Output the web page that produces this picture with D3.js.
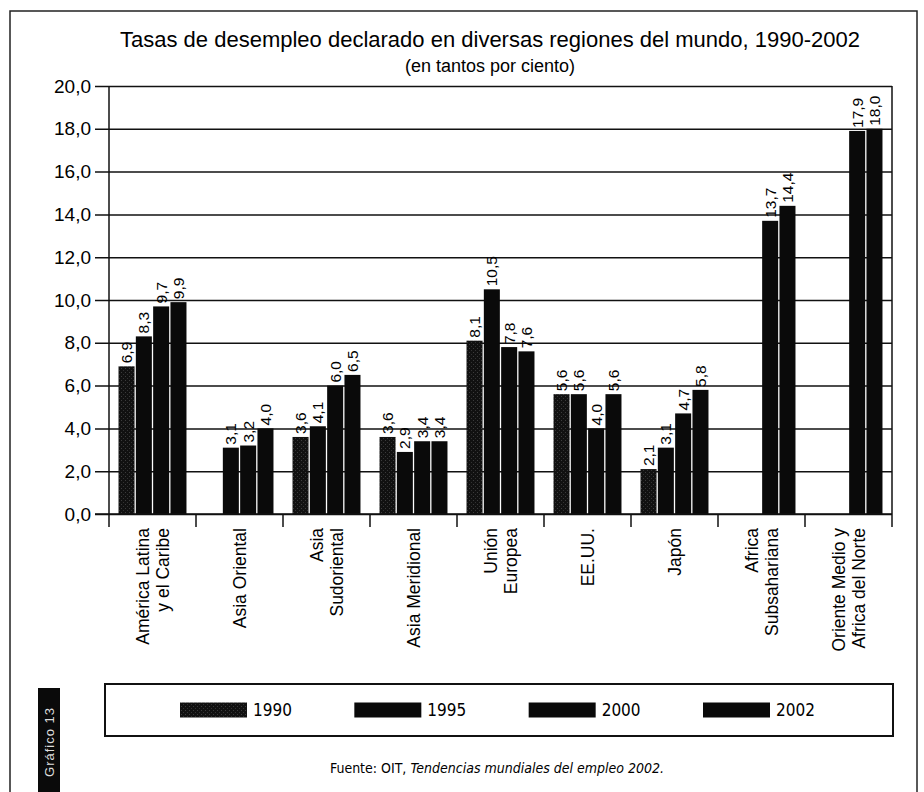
<!DOCTYPE html>
<html>
<head>
<meta charset="utf-8">
<script src="https://cdn.jsdelivr.net/npm/d3@7"></script>
<style>
  body { margin: 0; background: #fff; }
  svg { display: block; font-family: "Liberation Sans", Arial, sans-serif; }
  .narrow { font-family: "Liberation Sans Narrow", "DejaVu Sans Condensed", "Liberation Sans", sans-serif; }
</style>
</head>
<body>
<div id="chart"></div>
<script>
// data
const categories = [
  ["América Latina", "y el Caribe"],
  ["Asia Oriental"],
  ["Asia", "Sudoriental"],
  ["Asia Meridional"],
  ["Unión", "Europea"],
  ["EE.UU."],
  ["Japón"],
  ["Africa", "Subsahariana"],
  ["Oriente Medio y", "Africa del Norte"]
];
const years = ["1990", "1995", "2000", "2002"];
const v1990 = [6.9, null, 3.6, 3.6, 8.1, 5.6, 2.1, null, null];
const v1995 = [8.3, 3.1, 4.1, 2.9, 10.5, 5.6, 3.1, null, null];
const v2000 = [9.7, 3.2, 6.0, 3.4, 7.8, 4.0, 4.7, 13.7, 17.9];
const v2002 = [9.9, 4.0, 6.5, 3.4, 7.6, 5.6, 5.8, 14.4, 18.0];
const yTicks = [0, 2, 4, 6, 8, 10, 12, 14, 16, 18, 20];

const title = "Tasas de desempleo declarado en diversas regiones del mundo, 1990-2002";
const subtitle = "(en tantos por ciento)";

const series = [v1990, v1995, v2000, v2002];
const bars = [];
series.forEach((vals, s) => {
  vals.forEach((v, i) => {
    if (v !== null) bars.push({ cat: i, year: years[s], value: v });
  });
});

// dimensions
const W = 924;
const H = 792;
const PLOT = { left: 109, right: 892, top: 86, bottom: 514 };

const fmt = v => d3.format(".1f")(v).replace(".", ",");

const $svg = d3.select("#chart").append("svg")
  .attr("width", W)
  .attr("height", H);

// dark speckle texture for the 1990 series
const $defs = $svg.append("defs");
const $pat = $defs.append("pattern")
  .attr("id", "speckle")
  .attr("width", 4)
  .attr("height", 4)
  .attr("patternUnits", "userSpaceOnUse");
$pat.append("rect").attr("width", 4).attr("height", 4).attr("fill", "#111");
$pat.append("rect").attr("x", 1).attr("y", 0).attr("width", 1).attr("height", 1).attr("fill", "#3c3c3c");
$pat.append("rect").attr("x", 3).attr("y", 2).attr("width", 1).attr("height", 1).attr("fill", "#333");

const fillFor = yr => (yr === "1990" ? "url(#speckle)" : "#0a0a0a");

// scales
const x0 = d3.scaleBand()
  .domain(d3.range(categories.length))
  .range([PLOT.left, PLOT.right]);

const x1 = d3.scaleBand()
  .domain(years)
  .range([0, x0.bandwidth()])
  .paddingInner(0.075)
  .paddingOuter(0.55);

const y = d3.scaleLinear()
  .domain([0, 20])
  .range([PLOT.bottom, PLOT.top]);

// outer frame
$svg.append("rect")
  .attr("x", 10)
  .attr("y", 11)
  .attr("width", 907)
  .attr("height", H)
  .attr("fill", "none")
  .attr("stroke", "#222")
  .attr("stroke-width", 1.5);

// titles
$svg.append("text")
  .attr("x", 490)
  .attr("y", 47)
  .attr("text-anchor", "middle")
  .attr("font-size", 22)
  .text(title);

$svg.append("text")
  .attr("x", 490)
  .attr("y", 72)
  .attr("text-anchor", "middle")
  .attr("font-size", 18)
  .text(subtitle);

// y axis with gridlines
const yAxis = d3.axisLeft(y)
  .tickValues(yTicks)
  .tickSize(PLOT.right - PLOT.left + 14)
  .tickFormat(fmt);

const $yAxis = $svg.append("g")
  .attr("class", "y-axis")
  .attr("transform", `translate(${PLOT.right}, 0)`)
  .call(yAxis);

$yAxis.select(".domain").remove();
$yAxis.selectAll(".tick line")
  .attr("stroke", "#111")
  .attr("stroke-width", 1.5);
$yAxis.selectAll(".tick text")
  .attr("x", -(PLOT.right - PLOT.left + 18))
  .attr("font-size", 19)
  .attr("fill", "#000");

// plot frame
$svg.append("line")
  .attr("x1", PLOT.left).attr("x2", PLOT.left)
  .attr("y1", PLOT.top).attr("y2", PLOT.bottom)
  .attr("stroke", "#111").attr("stroke-width", 1.5);
$svg.append("line")
  .attr("x1", PLOT.right).attr("x2", PLOT.right)
  .attr("y1", PLOT.top).attr("y2", PLOT.bottom)
  .attr("stroke", "#111").attr("stroke-width", 1.5);

// bars
const $bars = $svg.append("g").attr("class", "bars");
$bars.selectAll("rect")
  .data(bars)
  .join("rect")
  .attr("x", d => x0(d.cat) + x1(d.year))
  .attr("y", d => y(d.value))
  .attr("width", x1.bandwidth())
  .attr("height", d => y(0) - y(d.value))
  .attr("fill", d => fillFor(d.year));

// value labels
$bars.selectAll("text")
  .data(bars)
  .join("text")
  .attr("transform", d => {
    const cx = x0(d.cat) + x1(d.year) + x1.bandwidth() / 2;
    return `translate(${cx}, ${y(d.value) - 3}) rotate(-90)`;
  })
  .attr("dy", "0.36em")
  .attr("font-size", 15.5)
  .text(d => fmt(d.value));

// x axis: ticks at band boundaries
const $xAxis = $svg.append("g").attr("class", "x-axis");
$xAxis.append("line")
  .attr("x1", PLOT.left - 14).attr("x2", PLOT.right)
  .attr("y1", PLOT.bottom).attr("y2", PLOT.bottom)
  .attr("stroke", "#111").attr("stroke-width", 1.5);

const bounds = x0.domain().map(i => x0(i)).concat([PLOT.right]);
$xAxis.selectAll(".xtick")
  .data(bounds)
  .join("line")
  .attr("class", "xtick")
  .attr("x1", d => d).attr("x2", d => d)
  .attr("y1", PLOT.bottom).attr("y2", PLOT.bottom + 13)
  .attr("stroke", "#111").attr("stroke-width", 1.5);

const LINE_H = 20;
const $catLabels = $xAxis.selectAll(".cat")
  .data(categories)
  .join("text")
  .attr("class", "cat")
  .attr("transform", (d, i) => `translate(${x0(i) + x0.bandwidth() / 2}, ${PLOT.bottom + 14}) rotate(-90)`)
  .attr("text-anchor", "end")
  .attr("font-size", 17.5);

$catLabels.selectAll("tspan")
  .data(d => d.map((t, k) => ({ t, k, n: d.length })))
  .join("tspan")
  .attr("x", 0)
  .attr("y", d => (d.k - (d.n - 1) / 2) * LINE_H)
  .attr("dy", "0.36em")
  .text(d => d.t);

// legend
const LEG = { x: 105, y: 684, w: 788, h: 52 };
const $legend = $svg.append("g").attr("class", "legend");
$legend.append("rect")
  .attr("x", LEG.x).attr("y", LEG.y)
  .attr("width", LEG.w).attr("height", LEG.h)
  .attr("fill", "none")
  .attr("stroke", "#111")
  .attr("stroke-width", 2);

const legX = d3.scalePoint()
  .domain(years)
  .range([180, 703]);

const $item = $legend.selectAll(".item")
  .data(years)
  .join("g")
  .attr("class", "item")
  .attr("transform", d => `translate(${legX(d)}, ${LEG.y + LEG.h / 2})`);

$item.append("rect")
  .attr("x", 0).attr("y", -7.5)
  .attr("width", 67).attr("height", 15)
  .attr("fill", d => fillFor(d));

$item.append("text")
  .attr("class", "narrow")
  .attr("x", 73)
  .attr("dy", "0.36em")
  .attr("font-size", 17)
  .text(d => d);

// source
const $src = $svg.append("text")
  .attr("class", "narrow")
  .attr("x", 497)
  .attr("y", 773)
  .attr("text-anchor", "middle")
  .attr("font-size", 14);
$src.append("tspan").text("Fuente: OIT, ");
$src.append("tspan").attr("font-style", "italic").text("Tendencias mundiales del empleo 2002.");

// side tab
$svg.append("rect")
  .attr("x", 38).attr("y", 688)
  .attr("width", 22).attr("height", 110)
  .attr("fill", "#0a0a0a");
$svg.append("text")
  .attr("transform", "translate(49, 742) rotate(-90)")
  .attr("text-anchor", "middle")
  .attr("dy", "0.36em")
  .attr("font-size", 13)
  .attr("letter-spacing", 1)
  .attr("fill", "#ddd")
  .text("Gráfico 13");
</script>
</body>
</html>
